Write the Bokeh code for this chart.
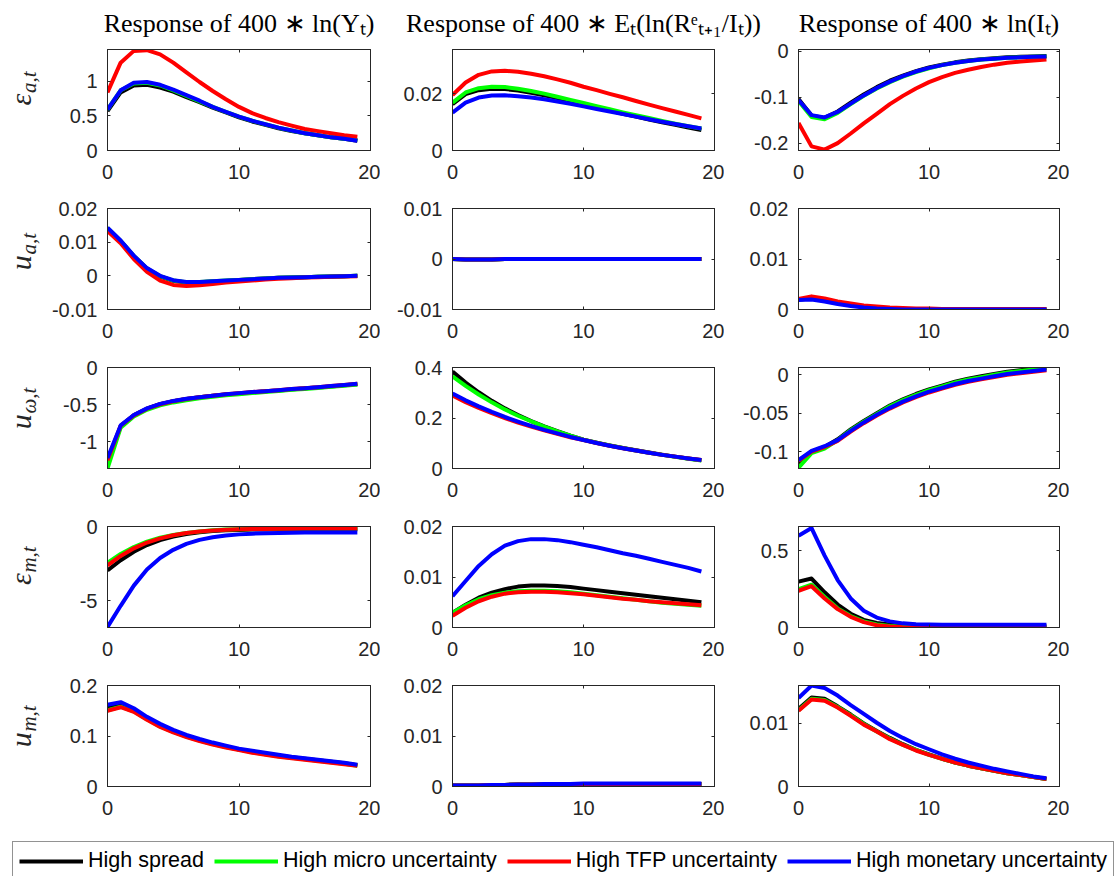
import math
from bokeh.plotting import figure
from bokeh.layouts import gridplot, column
from bokeh.models import (Range1d, FixedTicker, LinearAxis, CustomJSTickFormatter,
                          Legend, LegendItem)
from bokeh.embed import file_html
from bokeh.resources import INLINE
from bokeh.core.properties import value

# ---------------------------------------------------------------- data
horizon = list(range(20))

scenario_labels = ["High spread", "High micro uncertainty",
                   "High TFP uncertainty", "High monetary uncertainty"]
scenario_colors = ["#000000", "#00ff00", "#ff0000", "#0000ff"]

column_titles = ["Response of 400 ∗ ln(Yₜ)",
                 "Response of 400 ∗ Eₜ(ln(Rᵉₜ₊₁/Iₜ))",
                 "Response of 400 ∗ ln(Iₜ)"]
shock_symbols = ["ε", "u", "u", "ε", "u"]
shock_subscripts = ["a,t", "a,t", "ω,t", "m,t", "m,t"]

x_ticks = [0, 10, 20]

# output, TFP shock
out_eps_a_spread = [0.57, 0.84, 0.94, 0.95, 0.91, 0.85, 0.77, 0.70, 0.62, 0.55, 0.48, 0.42, 0.37, 0.32, 0.28, 0.25, 0.22, 0.19, 0.17, 0.14]
out_eps_a_micro = [0.59, 0.87, 0.97, 0.98, 0.94, 0.87, 0.79, 0.71, 0.63, 0.56, 0.49, 0.43, 0.38, 0.33, 0.29, 0.25, 0.22, 0.19, 0.17, 0.15]
out_eps_a_tfp = [0.84, 1.27, 1.44, 1.45, 1.39, 1.27, 1.13, 0.99, 0.86, 0.74, 0.63, 0.54, 0.47, 0.41, 0.36, 0.31, 0.28, 0.25, 0.22, 0.20]
out_eps_a_mon = [0.59, 0.87, 0.98, 0.99, 0.95, 0.88, 0.80, 0.72, 0.63, 0.56, 0.49, 0.43, 0.38, 0.33, 0.29, 0.25, 0.22, 0.19, 0.17, 0.14]

# expected excess return, TFP shock
ret_eps_a_spread = [0.0163, 0.0198, 0.0212, 0.0217, 0.0216, 0.0211, 0.0203, 0.0194, 0.0184, 0.0173, 0.0162, 0.0151, 0.0140, 0.0129, 0.0119, 0.0109, 0.0099, 0.0090, 0.0081, 0.0072]
ret_eps_a_micro = [0.0168, 0.0204, 0.0219, 0.0224, 0.0223, 0.0217, 0.0209, 0.0200, 0.0189, 0.0178, 0.0167, 0.0156, 0.0145, 0.0134, 0.0124, 0.0114, 0.0104, 0.0094, 0.0085, 0.0077]
ret_eps_a_tfp = [0.0195, 0.0239, 0.0266, 0.0278, 0.0280, 0.0277, 0.0270, 0.0261, 0.0250, 0.0238, 0.0224, 0.0212, 0.0199, 0.0187, 0.0174, 0.0161, 0.0149, 0.0137, 0.0125, 0.0113]
ret_eps_a_mon = [0.0133, 0.0168, 0.0186, 0.0193, 0.0194, 0.0191, 0.0186, 0.0180, 0.0172, 0.0164, 0.0155, 0.0146, 0.0137, 0.0128, 0.0119, 0.0110, 0.0101, 0.0093, 0.0085, 0.0077]

# investment, TFP shock
inv_eps_a_spread = [-0.104, -0.140, -0.145, -0.131, -0.112, -0.094, -0.078, -0.064, -0.053, -0.043, -0.035, -0.029, -0.024, -0.020, -0.017, -0.015, -0.013, -0.012, -0.011, -0.010]
inv_eps_a_micro = [-0.108, -0.143, -0.148, -0.134, -0.115, -0.097, -0.081, -0.067, -0.055, -0.045, -0.037, -0.030, -0.025, -0.021, -0.018, -0.016, -0.014, -0.013, -0.012, -0.011]
inv_eps_a_tfp = [-0.156, -0.207, -0.214, -0.200, -0.179, -0.157, -0.136, -0.115, -0.097, -0.081, -0.067, -0.056, -0.047, -0.040, -0.034, -0.029, -0.025, -0.022, -0.020, -0.018]
inv_eps_a_mon = [-0.106, -0.139, -0.144, -0.132, -0.114, -0.096, -0.080, -0.066, -0.054, -0.044, -0.036, -0.030, -0.025, -0.021, -0.018, -0.016, -0.014, -0.013, -0.012, -0.011]

# output, TFP uncertainty shock
out_u_a_spread = [0.0141, 0.0103, 0.0058, 0.0021, -0.0002, -0.0015, -0.0020, -0.0019, -0.0017, -0.0015, -0.0012, -0.0010, -0.0008, -0.0006, -0.0005, -0.0004, -0.0003, -0.0002, -0.0001, 0.0000]
out_u_a_micro = [0.0142, 0.0104, 0.0059, 0.0022, -0.0001, -0.0014, -0.0019, -0.0018, -0.0016, -0.0014, -0.0012, -0.0010, -0.0008, -0.0006, -0.0005, -0.0004, -0.0003, -0.0002, -0.0001, 0.0000]
out_u_a_tfp = [0.0133, 0.0097, 0.0050, 0.0012, -0.0014, -0.0027, -0.0030, -0.0028, -0.0024, -0.0020, -0.0017, -0.0014, -0.0011, -0.0009, -0.0007, -0.0005, -0.0004, -0.0003, -0.0002, -0.0001]
out_u_a_mon = [0.0143, 0.0105, 0.0060, 0.0023, 0.0000, -0.0013, -0.0018, -0.0018, -0.0016, -0.0014, -0.0012, -0.0010, -0.0008, -0.0006, -0.0005, -0.0004, -0.0003, -0.0002, -0.0001, 0.0000]

# expected excess return, TFP uncertainty shock
ret_u_a_spread = [0.0000, -0.0001, -0.0001, -0.0001, 0.0000, 0.0000, 0.0000, 0.0000, 0.0000, 0.0000, 0.0000, 0.0000, 0.0000, 0.0000, 0.0000, 0.0000, 0.0000, 0.0000, 0.0000, 0.0000]
ret_u_a_micro = [0.0000, -0.0001, -0.0001, -0.0001, 0.0000, 0.0000, 0.0000, 0.0000, 0.0000, 0.0000, 0.0000, 0.0000, 0.0000, 0.0000, 0.0000, 0.0000, 0.0000, 0.0000, 0.0000, 0.0000]
ret_u_a_tfp = [0.0000, -0.0001, -0.0001, -0.0001, 0.0000, 0.0000, 0.0000, 0.0000, 0.0000, 0.0000, 0.0000, 0.0000, 0.0000, 0.0000, 0.0000, 0.0000, 0.0000, 0.0000, 0.0000, 0.0000]
ret_u_a_mon = [0.0000, -0.0001, -0.0001, -0.0001, 0.0000, 0.0000, 0.0000, 0.0000, 0.0000, 0.0000, 0.0000, 0.0000, 0.0000, 0.0000, 0.0000, 0.0000, 0.0000, 0.0000, 0.0000, 0.0000]

# investment, TFP uncertainty shock
inv_u_a_spread = [0.0020, 0.0022, 0.0018, 0.0013, 0.0009, 0.0006, 0.0004, 0.0002, 0.0001, 0.0001, 0.0000, 0.0000, 0.0000, 0.0000, 0.0000, 0.0000, 0.0000, 0.0000, 0.0000, 0.0000]
inv_u_a_micro = [0.0020, 0.0022, 0.0018, 0.0013, 0.0009, 0.0006, 0.0004, 0.0002, 0.0001, 0.0001, 0.0000, 0.0000, 0.0000, 0.0000, 0.0000, 0.0000, 0.0000, 0.0000, 0.0000, 0.0000]
inv_u_a_tfp = [0.0021, 0.0026, 0.0022, 0.0016, 0.0012, 0.0008, 0.0006, 0.0004, 0.0003, 0.0002, 0.0002, 0.0001, 0.0001, 0.0001, 0.0001, 0.0001, 0.0001, 0.0001, 0.0001, 0.0001]
inv_u_a_mon = [0.0019, 0.0020, 0.0016, 0.0011, 0.0007, 0.0004, 0.0002, 0.0001, 0.0000, 0.0000, 0.0000, 0.0000, 0.0000, 0.0000, 0.0000, 0.0000, 0.0000, 0.0000, 0.0000, 0.0000]

# output, dispersion (micro uncertainty) shock
out_u_w_spread = [-1.30, -0.79, -0.645, -0.555, -0.495, -0.455, -0.425, -0.40, -0.38, -0.365, -0.35, -0.335, -0.32, -0.31, -0.295, -0.28, -0.27, -0.255, -0.24, -0.225]
out_u_w_micro = [-1.36, -0.81, -0.66, -0.57, -0.51, -0.47, -0.44, -0.415, -0.395, -0.375, -0.36, -0.345, -0.33, -0.315, -0.30, -0.29, -0.275, -0.26, -0.245, -0.23]
out_u_w_tfp = [-1.25, -0.785, -0.645, -0.555, -0.495, -0.455, -0.425, -0.40, -0.38, -0.36, -0.345, -0.33, -0.32, -0.305, -0.29, -0.28, -0.265, -0.25, -0.235, -0.22]
out_u_w_mon = [-1.22, -0.78, -0.64, -0.55, -0.49, -0.45, -0.42, -0.40, -0.38, -0.36, -0.345, -0.33, -0.32, -0.305, -0.29, -0.28, -0.265, -0.25, -0.235, -0.22]

# expected excess return, dispersion shock
ret_u_w_spread = [0.384, 0.340, 0.302, 0.268, 0.238, 0.212, 0.188, 0.167, 0.148, 0.130, 0.114, 0.102, 0.091, 0.081, 0.072, 0.063, 0.055, 0.047, 0.040, 0.033]
ret_u_w_micro = [0.365, 0.327, 0.293, 0.262, 0.234, 0.209, 0.187, 0.166, 0.147, 0.130, 0.114, 0.102, 0.091, 0.081, 0.071, 0.062, 0.054, 0.046, 0.039, 0.032]
ret_u_w_tfp = [0.289, 0.263, 0.240, 0.219, 0.200, 0.182, 0.166, 0.151, 0.137, 0.124, 0.113, 0.101, 0.090, 0.080, 0.071, 0.062, 0.054, 0.047, 0.040, 0.034]
ret_u_w_mon = [0.297, 0.270, 0.246, 0.224, 0.204, 0.186, 0.169, 0.153, 0.139, 0.125, 0.113, 0.101, 0.090, 0.080, 0.071, 0.062, 0.054, 0.047, 0.040, 0.034]

# investment, dispersion shock
inv_u_w_spread = [-0.115, -0.100, -0.094, -0.084, -0.071, -0.060, -0.050, -0.040, -0.032, -0.025, -0.019, -0.014, -0.009, -0.005, -0.002, 0.001, 0.004, 0.006, 0.008, 0.009]
inv_u_w_micro = [-0.121, -0.102, -0.096, -0.085, -0.072, -0.061, -0.051, -0.041, -0.033, -0.026, -0.020, -0.015, -0.010, -0.006, -0.003, 0.000, 0.003, 0.005, 0.007, 0.009]
inv_u_w_tfp = [-0.112, -0.100, -0.094, -0.086, -0.074, -0.063, -0.053, -0.044, -0.036, -0.029, -0.023, -0.018, -0.013, -0.009, -0.006, -0.003, 0.000, 0.002, 0.004, 0.006]
inv_u_w_mon = [-0.111, -0.099, -0.093, -0.085, -0.073, -0.062, -0.052, -0.043, -0.035, -0.028, -0.022, -0.017, -0.012, -0.008, -0.005, -0.002, 0.001, 0.003, 0.005, 0.007]

# output, monetary policy shock
out_eps_m_spread = [-2.95, -2.27, -1.70, -1.25, -0.91, -0.67, -0.50, -0.39, -0.31, -0.26, -0.23, -0.21, -0.20, -0.19, -0.19, -0.18, -0.18, -0.18, -0.18, -0.18]
out_eps_m_micro = [-2.45, -1.85, -1.38, -1.02, -0.76, -0.57, -0.43, -0.33, -0.26, -0.21, -0.18, -0.16, -0.15, -0.14, -0.14, -0.13, -0.13, -0.13, -0.13, -0.13]
out_eps_m_tfp = [-2.62, -1.98, -1.47, -1.08, -0.80, -0.59, -0.44, -0.34, -0.27, -0.22, -0.19, -0.17, -0.16, -0.15, -0.15, -0.14, -0.14, -0.14, -0.14, -0.14]
out_eps_m_mon = [-6.77, -5.34, -3.98, -2.90, -2.12, -1.57, -1.17, -0.90, -0.72, -0.61, -0.53, -0.48, -0.45, -0.43, -0.42, -0.41, -0.41, -0.40, -0.40, -0.40]

# expected excess return, monetary policy shock
ret_eps_m_spread = [0.0029, 0.0045, 0.0059, 0.0069, 0.0076, 0.0081, 0.0083, 0.0083, 0.0082, 0.0080, 0.0077, 0.0074, 0.0071, 0.0068, 0.0065, 0.0062, 0.0059, 0.0056, 0.0053, 0.0050]
ret_eps_m_micro = [0.0029, 0.0044, 0.0056, 0.0064, 0.0069, 0.0072, 0.0073, 0.0073, 0.0072, 0.0070, 0.0067, 0.0064, 0.0061, 0.0058, 0.0055, 0.0052, 0.0049, 0.0047, 0.0045, 0.0043]
ret_eps_m_tfp = [0.0023, 0.0039, 0.0052, 0.0061, 0.0067, 0.0070, 0.0071, 0.0071, 0.0070, 0.0068, 0.0066, 0.0063, 0.0060, 0.0057, 0.0055, 0.0052, 0.0050, 0.0048, 0.0046, 0.0044]
ret_eps_m_mon = [0.0062, 0.0092, 0.0122, 0.0145, 0.0162, 0.0171, 0.0175, 0.0175, 0.0173, 0.0169, 0.0164, 0.0159, 0.0153, 0.0147, 0.0142, 0.0136, 0.0130, 0.0124, 0.0118, 0.0111]

# investment, monetary policy shock
inv_eps_m_spread = [0.30, 0.32, 0.23, 0.15, 0.09, 0.05, 0.03, 0.02, 0.014, 0.011, 0.010, 0.009, 0.009, 0.008, 0.008, 0.008, 0.008, 0.008, 0.008, 0.008]
inv_eps_m_micro = [0.25, 0.28, 0.20, 0.125, 0.075, 0.04, 0.02, 0.01, 0.005, 0.003, 0.002, 0.002, 0.002, 0.002, 0.002, 0.002, 0.002, 0.002, 0.002, 0.002]
inv_eps_m_tfp = [0.24, 0.27, 0.19, 0.12, 0.07, 0.035, 0.015, 0.006, 0.002, 0.000, 0.000, 0.000, 0.000, 0.000, 0.000, 0.000, 0.000, 0.000, 0.000, 0.000]
inv_eps_m_mon = [0.60, 0.65, 0.47, 0.31, 0.19, 0.11, 0.065, 0.040, 0.027, 0.021, 0.019, 0.018, 0.018, 0.018, 0.018, 0.018, 0.018, 0.018, 0.018, 0.018]

# output, monetary uncertainty shock
out_u_m_spread = [0.155, 0.161, 0.151, 0.135, 0.121, 0.109, 0.100, 0.092, 0.085, 0.079, 0.073, 0.069, 0.065, 0.061, 0.058, 0.055, 0.052, 0.049, 0.046, 0.042]
out_u_m_micro = [0.151, 0.158, 0.149, 0.133, 0.119, 0.108, 0.099, 0.091, 0.084, 0.078, 0.073, 0.068, 0.064, 0.060, 0.057, 0.054, 0.051, 0.048, 0.045, 0.041]
out_u_m_tfp = [0.150, 0.157, 0.148, 0.132, 0.118, 0.107, 0.098, 0.090, 0.083, 0.077, 0.072, 0.067, 0.063, 0.059, 0.056, 0.053, 0.050, 0.047, 0.044, 0.041]
out_u_m_mon = [0.162, 0.167, 0.155, 0.138, 0.124, 0.112, 0.102, 0.094, 0.087, 0.081, 0.075, 0.071, 0.067, 0.063, 0.059, 0.056, 0.053, 0.050, 0.047, 0.043]

# expected excess return, monetary uncertainty shock
ret_u_m_spread = [0.0002, 0.0002, 0.0002, 0.0003, 0.0003, 0.0004, 0.0004, 0.0004, 0.0005, 0.0005, 0.0005, 0.0005, 0.0005, 0.0005, 0.0005, 0.0005, 0.0005, 0.0005, 0.0005, 0.0005]
ret_u_m_micro = [0.0002, 0.0002, 0.0002, 0.0003, 0.0003, 0.0004, 0.0004, 0.0004, 0.0005, 0.0005, 0.0005, 0.0005, 0.0005, 0.0005, 0.0005, 0.0005, 0.0005, 0.0005, 0.0005, 0.0005]
ret_u_m_tfp = [0.0002, 0.0002, 0.0002, 0.0003, 0.0003, 0.0004, 0.0004, 0.0004, 0.0005, 0.0005, 0.0005, 0.0005, 0.0005, 0.0005, 0.0005, 0.0005, 0.0005, 0.0005, 0.0005, 0.0005]
ret_u_m_mon = [0.0002, 0.0002, 0.0002, 0.0003, 0.0003, 0.0004, 0.0004, 0.0005, 0.0005, 0.0005, 0.0006, 0.0006, 0.0006, 0.0006, 0.0006, 0.0006, 0.0006, 0.0006, 0.0006, 0.0006]

# investment, monetary uncertainty shock
inv_u_m_spread = [0.0123, 0.0141, 0.0139, 0.0127, 0.0114, 0.0100, 0.0088, 0.0077, 0.0067, 0.0058, 0.0051, 0.0044, 0.0038, 0.0033, 0.0029, 0.0025, 0.0021, 0.0018, 0.0015, 0.0012]
inv_u_m_micro = [0.0121, 0.0139, 0.0137, 0.0126, 0.0113, 0.0099, 0.0087, 0.0076, 0.0066, 0.0058, 0.0050, 0.0044, 0.0038, 0.0033, 0.0029, 0.0025, 0.0021, 0.0018, 0.0015, 0.0012]
inv_u_m_tfp = [0.0120, 0.0138, 0.0136, 0.0125, 0.0112, 0.0098, 0.0087, 0.0075, 0.0066, 0.0057, 0.0050, 0.0044, 0.0038, 0.0033, 0.0029, 0.0025, 0.0021, 0.0018, 0.0015, 0.0012]
inv_u_m_mon = [0.0140, 0.0160, 0.0156, 0.0144, 0.0129, 0.0115, 0.0101, 0.0088, 0.0077, 0.0067, 0.0059, 0.0051, 0.0044, 0.0038, 0.0033, 0.0028, 0.0024, 0.0020, 0.0016, 0.0013]

# y-axis limits and ticks, one row per shock, one entry per response
y_limits = [
    [(0, 1.46), (0, 0.0355), (-0.216, 0.004)],
    [(-0.01, 0.02), (-0.01, 0.01), (0, 0.02)],
    [(-1.36, 0), (0, 0.4), (-0.122, 0.0095)],
    [(-6.8, 0), (0, 0.02), (0, 0.66)],
    [(0, 0.2), (0, 0.02), (0, 0.016)],
]
y_ticks = [
    [[0, 0.5, 1], [0, 0.02], [-0.2, -0.1, 0]],
    [[-0.01, 0, 0.01, 0.02], [-0.01, 0, 0.01], [0, 0.01, 0.02]],
    [[-1, -0.5, 0], [0, 0.2, 0.4], [-0.1, -0.05, 0]],
    [[-5, 0], [0, 0.01, 0.02], [0, 0.5]],
    [[0, 0.1, 0.2], [0, 0.01, 0.02], [0, 0.01]],
]

responses = [
    [(out_eps_a_spread, out_eps_a_micro, out_eps_a_tfp, out_eps_a_mon),
     (ret_eps_a_spread, ret_eps_a_micro, ret_eps_a_tfp, ret_eps_a_mon),
     (inv_eps_a_spread, inv_eps_a_micro, inv_eps_a_tfp, inv_eps_a_mon)],
    [(out_u_a_spread, out_u_a_micro, out_u_a_tfp, out_u_a_mon),
     (ret_u_a_spread, ret_u_a_micro, ret_u_a_tfp, ret_u_a_mon),
     (inv_u_a_spread, inv_u_a_micro, inv_u_a_tfp, inv_u_a_mon)],
    [(out_u_w_spread, out_u_w_micro, out_u_w_tfp, out_u_w_mon),
     (ret_u_w_spread, ret_u_w_micro, ret_u_w_tfp, ret_u_w_mon),
     (inv_u_w_spread, inv_u_w_micro, inv_u_w_tfp, inv_u_w_mon)],
    [(out_eps_m_spread, out_eps_m_micro, out_eps_m_tfp, out_eps_m_mon),
     (ret_eps_m_spread, ret_eps_m_micro, ret_eps_m_tfp, ret_eps_m_mon),
     (inv_eps_m_spread, inv_eps_m_micro, inv_eps_m_tfp, inv_eps_m_mon)],
    [(out_u_m_spread, out_u_m_micro, out_u_m_tfp, out_u_m_mon),
     (ret_u_m_spread, ret_u_m_micro, ret_u_m_tfp, ret_u_m_mon),
     (inv_u_m_spread, inv_u_m_micro, inv_u_m_tfp, inv_u_m_mon)],
]

# ---------------------------------------------------------------- layout
AXIS_COLOR = "#262626"
TICK_FONT = "Liberation Sans"
LABEL_W = 45
FRAME_W = [263, 262, 261]
BORDER_L = [62, 72, 74]
BORDER_R = 10
FRAME_H = 101
BORDER_T = 18
BORDER_T_FIRST = 11
BORDER_B = 40
TITLE_H = 38

fmt_numbers = CustomJSTickFormatter(code="return String(Math.round(tick*1e6)/1e6);")


def bare_figure(w, h, xr, yr):
    f = figure(width=w, height=h, x_range=xr, y_range=yr, title=None,
               x_axis_location=None, y_axis_location=None, min_border=0,
               outline_line_color=None, output_backend="svg", toolbar_location=None)
    f.xgrid.visible = False
    f.ygrid.visible = False
    return f


def blank_axis(ticks):
    return LinearAxis(ticker=FixedTicker(ticks=ticks),
                      formatter=CustomJSTickFormatter(code="return '';"),
                      major_label_text_font_size="0px", major_label_standoff=0,
                      major_tick_in=3, major_tick_out=0,
                      minor_tick_line_color=None, axis_line_color=AXIS_COLOR,
                      major_tick_line_color=AXIS_COLOR)


def style_axis(ax, standoff):
    ax.formatter = fmt_numbers
    ax.major_label_text_font = TICK_FONT
    ax.major_label_text_font_size = "20px"
    ax.major_label_text_color = AXIS_COLOR
    ax.major_label_standoff = standoff
    ax.major_tick_in = 3
    ax.major_tick_out = 0
    ax.minor_tick_line_color = None
    ax.axis_line_color = AXIS_COLOR
    ax.major_tick_line_color = AXIS_COLOR


def response_panel(row, col):
    top = BORDER_T_FIRST if row == 0 else BORDER_T
    p = figure(width=BORDER_L[col] + FRAME_W[col] + BORDER_R,
               height=top + FRAME_H + BORDER_B,
               x_range=Range1d(0, 20), y_range=Range1d(*y_limits[row][col]),
               min_border_left=BORDER_L[col], min_border_right=BORDER_R,
               min_border_top=top, min_border_bottom=BORDER_B,
               output_backend="svg", toolbar_location=None)
    p.xgrid.visible = False
    p.ygrid.visible = False
    p.outline_line_color = AXIS_COLOR
    p.xaxis.ticker = FixedTicker(ticks=x_ticks)
    p.yaxis.ticker = FixedTicker(ticks=y_ticks[row][col])
    style_axis(p.xaxis[0], 14)
    style_axis(p.yaxis[0], 10)
    p.add_layout(blank_axis(y_ticks[row][col]), "right")
    p.add_layout(blank_axis(x_ticks), "above")
    for series, color in zip(responses[row][col], scenario_colors):
        p.line(horizon, series, line_color=color, line_width=4, line_join="round")
    return p


def shock_label(row):
    # rotated symbol with its subscript, joined end to end at one point
    top = BORDER_T_FIRST if row == 0 else BORDER_T
    h = top + FRAME_H + BORDER_B
    f = bare_figure(LABEL_W, h, Range1d(0, LABEL_W), Range1d(0, h))
    yc = h - (top + FRAME_H / 2)
    join = yc - 5
    f.text(x=[20], y=[join], text=[shock_symbols[row]], angle=math.pi / 2,
           text_font=value("Liberation Serif"), text_font_style="italic",
           text_font_size="30px", text_align="right", text_baseline="middle",
           text_color=AXIS_COLOR)
    f.text(x=[28], y=[join + 1], text=[shock_subscripts[row]], angle=math.pi / 2,
           text_font=value("Liberation Serif"), text_font_style="italic",
           text_font_size="21px", text_align="left", text_baseline="middle",
           text_color=AXIS_COLOR)
    return f


rows = []
for r in range(5):
    rows.append([shock_label(r)] + [response_panel(r, c) for c in range(3)])
grid = gridplot(rows, toolbar_location=None)

# column headings across the top
total_w = LABEL_W + sum(BORDER_L) + sum(FRAME_W) + 3 * BORDER_R
title_fig = bare_figure(total_w, TITLE_H, Range1d(0, total_w), Range1d(0, TITLE_H))
centers = []
left = LABEL_W
for c in range(3):
    centers.append(left + BORDER_L[c] + FRAME_W[c] / 2)
    left += BORDER_L[c] + FRAME_W[c] + BORDER_R
title_fig.text(x=centers, y=[TITLE_H - 23] * 3, text=column_titles, text_align="center",
               text_baseline="middle", text_font=value("Liberation Serif"),
               text_font_size="26px", text_color="#000000")

# shared legend strip
legend_fig = bare_figure(1114, 50, Range1d(0, 1), Range1d(0, 1))
items = []
for label, color in zip(scenario_labels, scenario_colors):
    r = legend_fig.line([horizon[0]], [horizon[0]], line_color=color, line_width=4)
    items.append(LegendItem(label=label, renderers=[r]))
legend = Legend(items=items, orientation="horizontal", location=(12, -4),
                glyph_width=64, glyph_height=20, label_standoff=5, spacing=10,
                padding=6, margin=0, label_text_font="Liberation Sans",
                label_text_font_size="21.5px", label_text_color="#000000",
                border_line_color=AXIS_COLOR, border_line_width=1,
                background_fill_color="white", background_fill_alpha=1)
legend_fig.add_layout(legend)

page = column(title_fig, grid, legend_fig)
open("out.html", "w").write(file_html(page, INLINE))
